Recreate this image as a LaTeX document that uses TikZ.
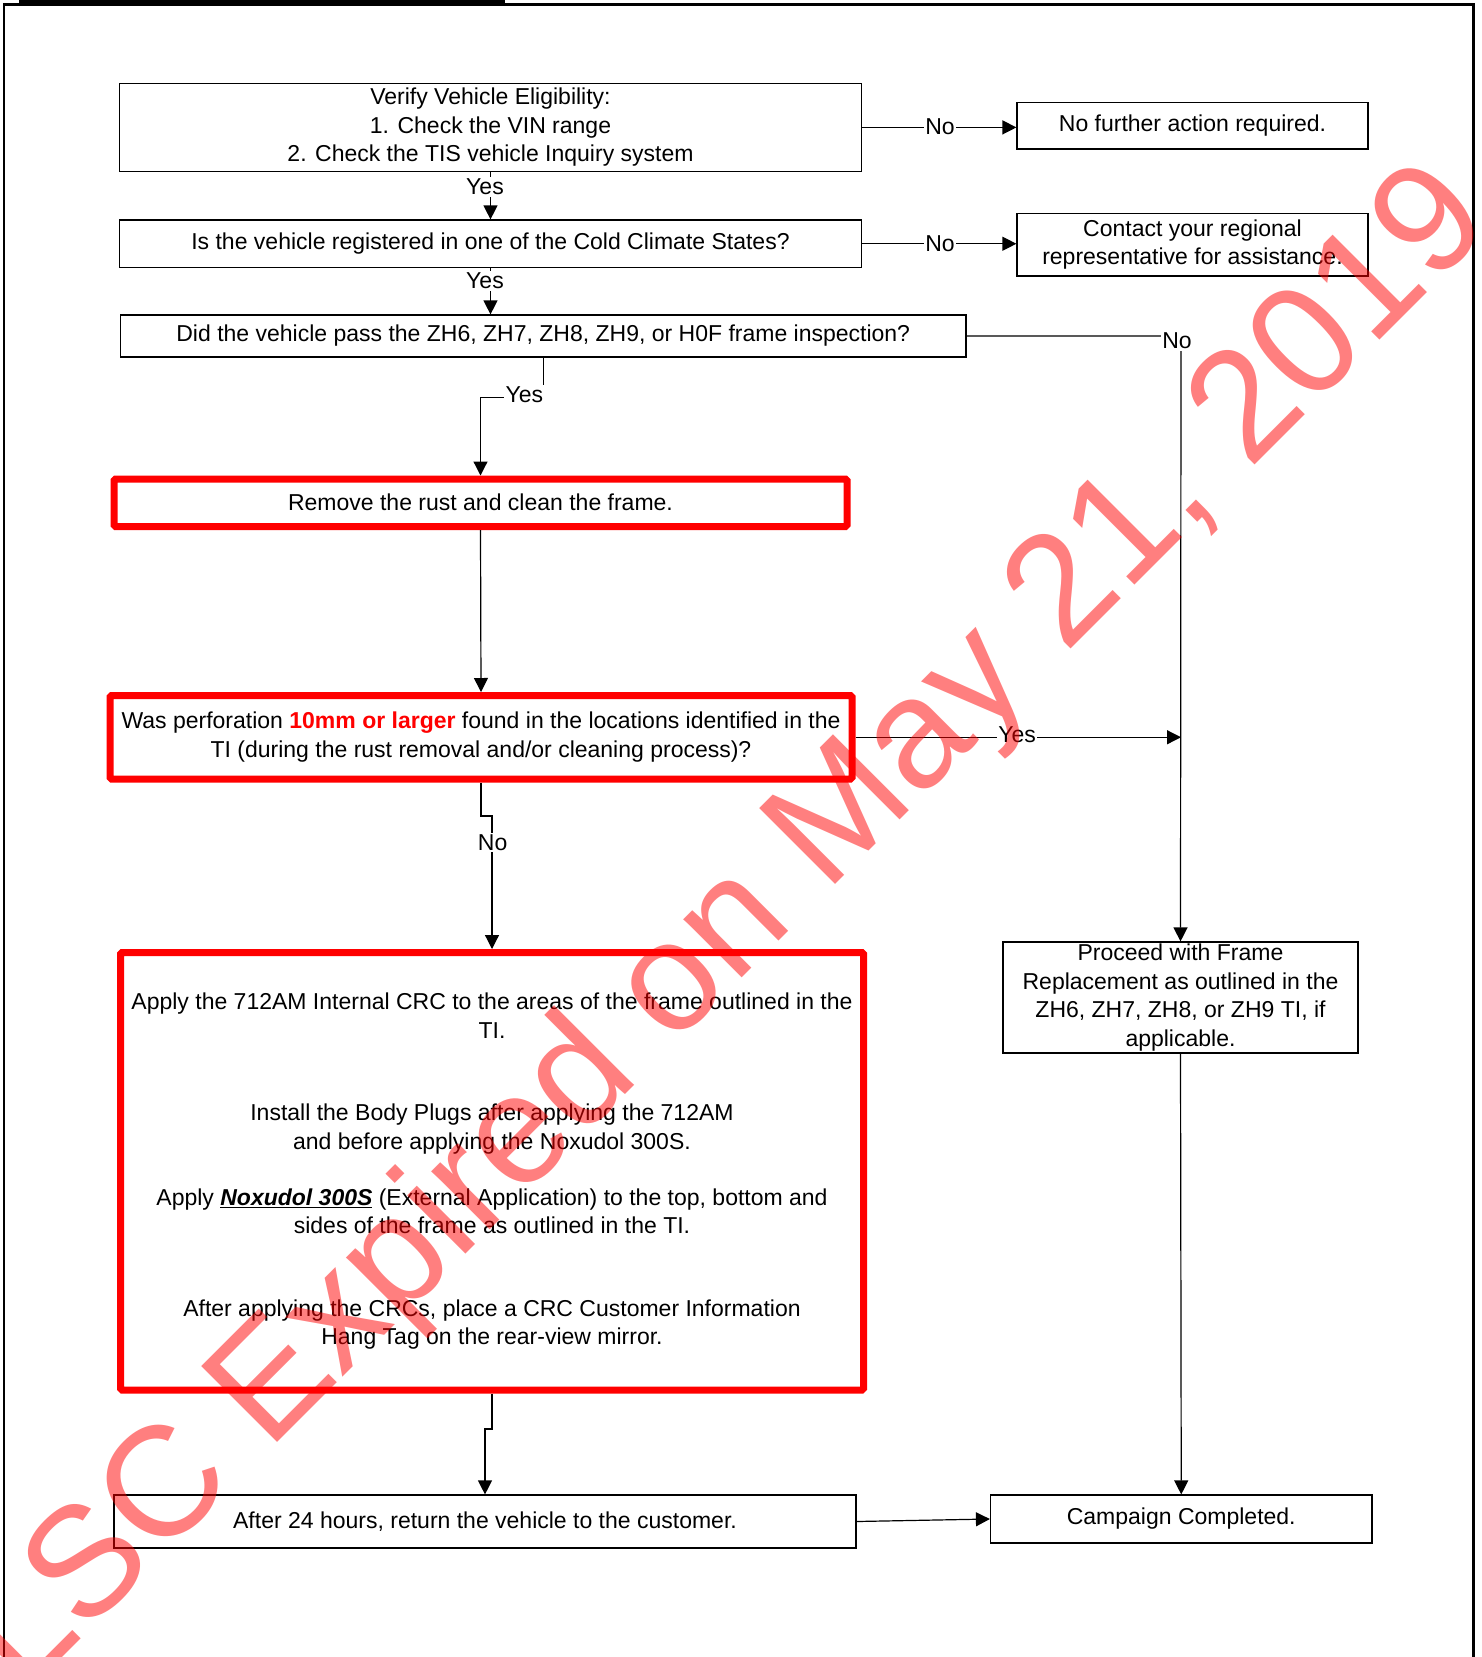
\documentclass[tikz,border=0pt]{standalone}
\usepackage{fontspec}
\setmainfont{Liberation Sans}
\usetikzlibrary{arrows.meta}
\begin{document}
\begin{tikzpicture}[x=1pt,y=-1pt,
  txt/.style={font=\fontsize{23}{28.5}\selectfont},
  box/.style={txt, draw=black, line width=1.2pt, inner sep=0pt, align=center},
  redbox/.style={txt, draw=red, line width=7pt, rounded corners=1.5pt, inner sep=0pt, align=center},
  conn/.style={line width=1.2pt, black},
  arr/.style={conn, -{Triangle[length=14pt,width=14pt]}},
  lbl/.style={txt, fill=white, inner sep=1.5pt},
]
\useasboundingbox (0,0) rectangle (1481,1657);
% frame
\fill[black] (19,0) rectangle (505,5);
\draw[line width=2.5pt] (4,1657) -- (4,4.5) -- (1473.5,4.5) -- (1473.5,1657);

% nodes
\node[box, minimum width=742pt, minimum height=87.8pt] (b1) at (490.5,127.4)
  {Verify Vehicle Eligibility:\\1. Check the VIN range\\2. Check the TIS vehicle Inquiry system};
\node[box, minimum width=351pt, minimum height=46.5pt] (nofa) at (1192.5,125.75)
  {No further action required.};
\node[box, minimum width=742pt, minimum height=47.5pt] (b2) at (490.5,243.75)
  {Is the vehicle registered in one of the Cold Climate States?};
\node[box, minimum width=351pt, minimum height=62.5pt] (contact) at (1192.5,244.75)
  {Contact your regional\\representative for assistance.};
\node[box, minimum width=845.5pt, minimum height=42pt] (b3) at (543.25,336)
  {Did the vehicle pass the ZH6, ZH7, ZH8, ZH9, or H0F frame inspection?};
\node[redbox, minimum width=733pt, minimum height=47.5pt] (r1) at (480.5,502.75)
  {Remove the rust and clean the frame.};
\node[redbox, minimum width=742pt, minimum height=83.5pt] (r2) at (481,737.25)
  {Was perforation {\color{red}\bfseries 10mm or larger} found in the locations identified in the\\TI (during the rust removal and/or cleaning process)?};
\node[redbox, minimum width=743pt, minimum height=437.5pt] (r3) at (492,1171.25)
  {Apply the 712AM Internal CRC to the areas of the frame outlined in the\\TI.\\[54pt]
   Install the Body Plugs after applying the 712AM\\and before applying the Noxudol 300S.\\[27.5pt]
   Apply \underline{\bfseries\itshape Noxudol 300S} (External Application) to the top, bottom and\\sides of the frame as outlined in the TI.\\[54pt]
   After applying the CRCs, place a CRC Customer Information\\Hang Tag on the rear-view mirror.};
\node[box, minimum width=355pt, minimum height=111pt] (frame) at (1180.5,997.5)
  {Proceed with Frame\\Replacement as outlined in the\\ZH6, ZH7, ZH8, or ZH9 TI, if\\applicable.};
\node[box, minimum width=742pt, minimum height=53pt] (ret) at (485,1521.5)
  {After 24 hours, return the vehicle to the customer.};
\node[box, minimum width=381.5pt, minimum height=48pt] (done) at (1181.25,1519)
  {Campaign Completed.};

% connectors
\draw[arr] (b1.east) -- (b1.east -| nofa.west);
\node[lbl] (l1) at (940,127) {No};
\draw[arr] (b1.south) -- (b2.north);
\node[lbl] (l2) at (485,187) {Yes};
\draw[arr] (b2.east) -- (b2.east -| contact.west);
\node[lbl] (l3) at (940,244) {No};
\draw[arr] (b2.south) -- (b2.south |- b3.north);
\node[lbl] (l4) at (485,281) {Yes};
\coordinate (c3) at (1181,336);
\draw[arr] (b3.east) -- (c3) -- (frame.north);
\node[lbl] (l5) at (1177,341) {No};
\coordinate (c4a) at (543.25,397.5);
\coordinate (c4b) at (480.5,397.5);
\draw[arr] (b3.south) -- (c4a) -- (c4b) -- (r1.north);
\node[lbl] (l6) at (524.3,394.3) {Yes};
\draw[arr] (r1.south) -- (r2.north);
\coordinate (c7) at (1181,737.25);
\draw[arr] (r2.east) -- (c7);
\node[lbl] (l7) at (1017,735) {Yes};
\coordinate (c8a) at (481,816);
\coordinate (c8b) at (492,816);
\draw[arr] (r2.south) -- (c8a) -- (c8b) -- (r3.north);
\node[lbl] (l8) at (492.6,842.5) {No};
\coordinate (c9a) at (492,1429);
\coordinate (c9b) at (485,1429);
\draw[arr] (r3.south) -- (c9a) -- (c9b) -- (ret.north);
\draw[arr] (ret.east) -- (done.west);
\draw[arr] (frame.south) -- (done.north);

% watermark
\node[rotate=45, anchor=base, inner sep=0pt, text=red, text opacity=0.5,
  font=\fontsize{156}{160}\selectfont] (wm) at (759,961) {LSC Expired on May 21, 2019};
\end{tikzpicture}
\end{document}
